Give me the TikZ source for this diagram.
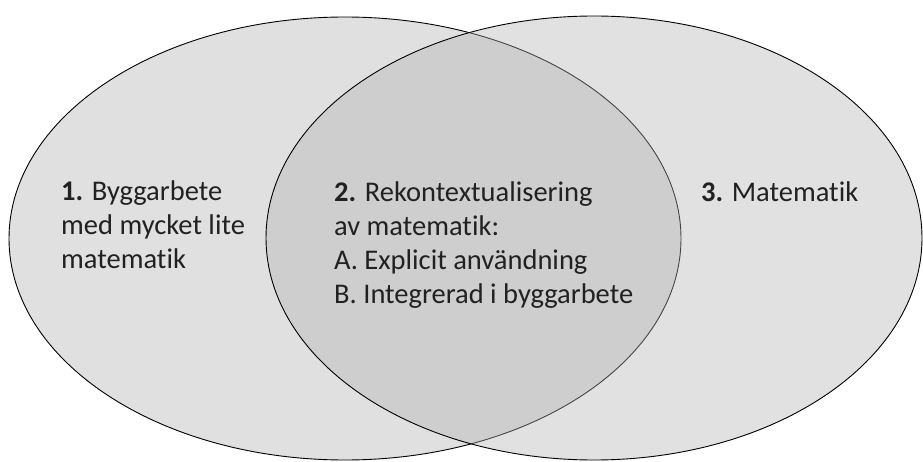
\documentclass[tikz,border=0pt]{standalone}
\usepackage{fontspec}
\setmainfont{Carlito}[Ligatures=NoCommon]
\begin{document}
\begin{tikzpicture}[x=1pt,y=-1pt,
  lbl/.style={anchor=base west,align=left,inner sep=0pt,text=black!87,
    font=\fontsize{28.5}{34}\selectfont},
  setA/.style={draw=black,line width=0.9pt,fill=black!12},
  setB/.style={draw=black,line width=0.9pt,fill={rgb,255:red,180;green,180;blue,180},fill opacity=0.39}]
\useasboundingbox (0,0) rectangle (923,462);
\fill[white] (0,0) rectangle (923,462);
\draw[setA] (345,238.5) ellipse [x radius=336, y radius=221.5];
\draw[setB] (594,238) ellipse [x radius=328, y radius=222];
% base anchor of a multi-line node is its last line
\node[lbl] (t1) at (61,269) {\textbf{1.} Byggarbete\\med mycket lite\\matematik};
\node[lbl] (t2) at (334,303) {\textbf{2.} Rekontextualisering\\av matematik:\\A. Explicit användning\\B. Integrerad i byggarbete};
\node[lbl] (t3) at (701,202) {\textbf{3.} Matematik};
\end{tikzpicture}
\end{document}
